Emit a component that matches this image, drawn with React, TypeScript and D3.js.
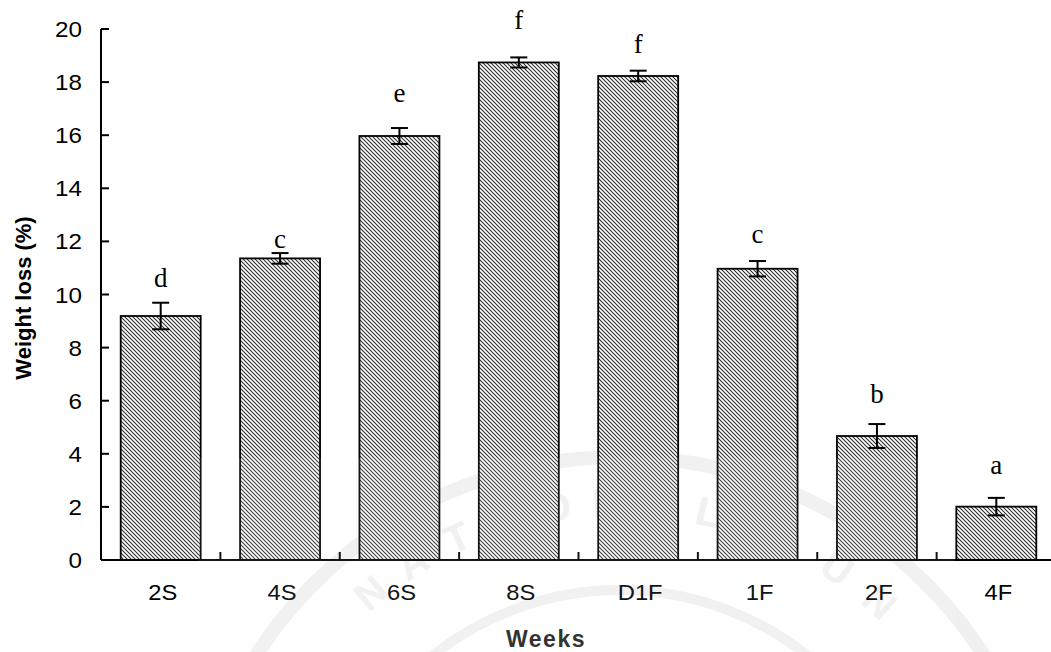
import React from "react";
import * as d3 from "d3";

const categories = ["2S", "4S", "6S", "8S", "D1F", "1F", "2F", "4F"];
const values = [9.19, 11.36, 15.97, 18.74, 18.23, 10.97, 4.67, 2.01];
const errors = [0.5, 0.2, 0.3, 0.19, 0.2, 0.29, 0.45, 0.33];
const letters = ["d", "c", "e", "f", "f", "c", "b", "a"];
const letterY = [10.28, 11.75, 17.25, 19.99, 19.1, 11.94, 5.91, 3.24];
const yTicks = [0, 2, 4, 6, 8, 10, 12, 14, 16, 18, 20];
const watermarkLetters = ["N", "A", "T", "I", "O", "N", "A", "L"];
const watermarkRight = ["U", "N"];

const W = 1051;
const H = 652;
const X0 = 101;
const X1 = 1056;
const Y0 = 560;
const Y1 = 29;

export default function App() {
  const x = d3
    .scaleBand<string>()
    .domain(categories)
    .range([X0, X1])
    .paddingInner(0.33)
    .paddingOuter(0.165);
  const y = d3.scaleLinear().domain([0, 20]).range([Y0, Y1]);
  const step = x.step();
  const bw = x.bandwidth();
  const sans = "'Liberation Sans', Arial, sans-serif";
  const serif = "'Liberation Serif', 'Times New Roman', serif";

  // watermark geometry
  const cx = 620;
  const cy = 890;
  const rText = 388;
  const angLeft = d3.range(watermarkLetters.length).map((i) => -130 + i * 7.6);
  const angRight = [-56, -48];

  return (
    <svg width={W} height={H} style={{ position: "absolute", left: 0, top: 0 }}>
      <defs>
        <pattern id="hatch" patternUnits="userSpaceOnUse" width={4} height={4}>
          <rect width={4} height={4} fill="#fff" />
          <path d="M-1,-1 L5,5 M-1,3 L1,5 M3,-1 L5,1" stroke="#2a2a2a" strokeWidth={1.05} />
        </pattern>
      </defs>
      <rect width={W} height={H} fill="#fff" />

      {/* faint watermark (under the marks) */}
      <g opacity={0.5}>
        <circle cx={cx} cy={cy} r={433} fill="none" stroke="#e2e2e2" strokeWidth={14} />
        <circle cx={cx} cy={cy} r={300} fill="none" stroke="#e2e2e2" strokeWidth={10} />
        {watermarkLetters.map((l, i) => {
          const a = (angLeft[i] * Math.PI) / 180;
          const px = cx + rText * Math.cos(a);
          const py = cy + rText * Math.sin(a);
          return (
            <text
              key={"wm" + i}
              transform={`translate(${px},${py}) rotate(${angLeft[i] + 90})`}
              textAnchor="middle"
              dominantBaseline="central"
              fontFamily={sans}
              fontWeight="bold"
              fontSize={40}
              fill="#e2e2e2"
            >
              {l}
            </text>
          );
        })}
        {watermarkRight.map((l, i) => {
          const a = (angRight[i] * Math.PI) / 180;
          const px = cx + rText * Math.cos(a);
          const py = cy + rText * Math.sin(a);
          return (
            <text
              key={"wr" + i}
              transform={`translate(${px},${py}) rotate(${angRight[i] + 90})`}
              textAnchor="middle"
              dominantBaseline="central"
              fontFamily={sans}
              fontWeight="bold"
              fontSize={40}
              fill="#e2e2e2"
            >
              {l}
            </text>
          );
        })}
      </g>

      {/* bars */}
      {categories.map((c, i) => (
        <rect
          key={c}
          x={x(c)}
          y={y(values[i])}
          width={bw}
          height={Y0 - y(values[i])}
          fill="url(#hatch)"
          stroke="#000"
          strokeWidth={1.8}
        />
      ))}

      {/* error bars */}
      {categories.map((c, i) => {
        const cxb = (x(c) as number) + bw / 2;
        const top = y(values[i] + errors[i]);
        const bot = y(values[i] - errors[i]);
        return (
          <g key={"e" + c} stroke="#000" strokeWidth={2}>
            <line x1={cxb} x2={cxb} y1={top} y2={bot} />
            <line x1={cxb - 8.5} x2={cxb + 8.5} y1={top} y2={top} />
            <line x1={cxb - 8.5} x2={cxb + 8.5} y1={bot} y2={bot} />
          </g>
        );
      })}

      {/* significance letters */}
      {categories.map((c, i) => (
        <text
          key={"l" + c}
          x={(x(c) as number) + bw / 2}
          y={y(letterY[i])}
          textAnchor="middle"
          fontFamily={serif}
          fontSize={27}
          fill="#000"
        >
          {letters[i]}
        </text>
      ))}

      {/* y axis */}
      <line x1={X0} x2={X0} y1={Y1} y2={Y0} stroke="#000" strokeWidth={2} />
      {yTicks.map((t) => (
        <g key={"yt" + t}>
          <line x1={X0} x2={X0 + 8} y1={y(t)} y2={y(t)} stroke="#000" strokeWidth={2} />
          <text
            transform={`translate(82,${y(t) + 8}) scale(1.1,1)`}
            textAnchor="end"
            fontFamily={sans}
            fontSize={22}
            fill="#000"
          >
            {t}
          </text>
        </g>
      ))}

      {/* x axis */}
      <line x1={X0} x2={X1} y1={Y0} y2={Y0} stroke="#000" strokeWidth={2} />
      {categories.map((c, i) =>
        i === 0 ? null : (
          <line
            key={"xt" + c}
            x1={X0 + i * step}
            x2={X0 + i * step}
            y1={Y0}
            y2={Y0 - 8}
            stroke="#000"
            strokeWidth={2}
          />
        )
      )}
      {categories.map((c) => (
        <text
          key={"xl" + c}
          transform={`translate(${(x(c) as number) + bw / 2 + 2},600) scale(1.08,1)`}
          textAnchor="middle"
          fontFamily={sans}
          fontSize={22}
          fill="#000"
        >
          {c}
        </text>
      ))}

      {/* axis titles */}
      <text
        transform="translate(31,298) rotate(-90)"
        textAnchor="middle"
        fontFamily={sans}
        fontWeight="bold"
        fontSize={22}
        fill="#000"
      >
        Weight loss (%)
      </text>
      <text
        x={546}
        y={647}
        textAnchor="middle"
        fontFamily={sans}
        fontWeight="bold"
        fontSize={23}
        letterSpacing={1.5}
        fill="#222"
      >
        Weeks
      </text>

      {/* light veil from the scanned page */}
      <rect x={198} y={458} width={757} height={H - 458} fill="#fff" opacity={0.08} />
    </svg>
  );
}
